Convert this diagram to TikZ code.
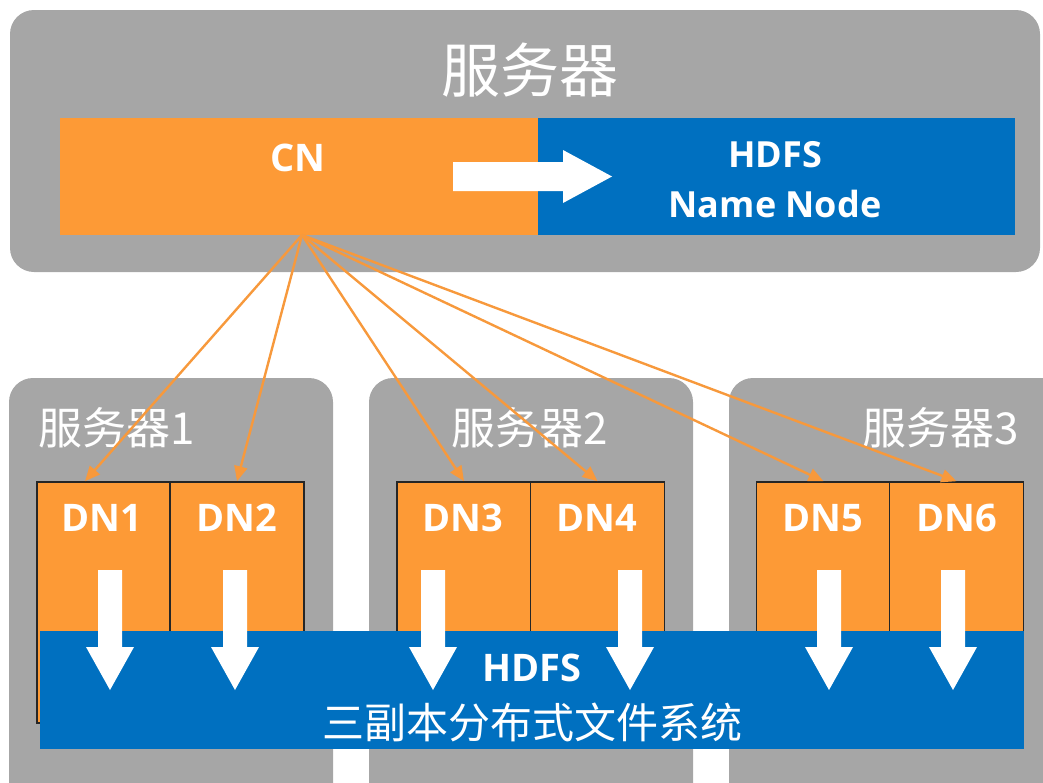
\documentclass[tikz,border=0pt]{standalone}
\usepackage{fontspec}
\setmainfont{Open Sans}
\newfontfamily\cjk{Noto Sans CJK SC}
\usetikzlibrary{arrows.meta}
\definecolor{srvgray}{HTML}{A6A6A6}
\definecolor{dnorange}{HTML}{FD9A36}
\definecolor{lnorange}{HTML}{F7993C}
\definecolor{hdblue}{HTML}{0070C0}
\tikzset{
  server/.style={fill=srvgray, rounded corners=24pt},
  dnbox/.style={rectangle, fill=dnorange, draw=black!85, line width=1.6pt, minimum width=134pt, minimum height=241pt, inner sep=0pt},
  dnlabel/.style={text=white, font=\bfseries\fontsize{38}{42}\selectfont, inner sep=0pt},
  cjklabel/.style={text=white, inner sep=0pt},
  boldlabel/.style={text=white, font=\bfseries\fontsize{38}{42}\selectfont, inner sep=0pt},
  conn/.style={lnorange, line width=2.4pt, -{Triangle[length=15pt,width=13pt]}},
  whitearrow/.style={fill=white}
}
\begin{document}
\begin{tikzpicture}[x=1pt,y=-1pt]
\useasboundingbox (0,0) rectangle (1043,782);
\clip (0,0) rectangle (1043,782);
% top server
\fill[server] (10,10) rectangle (1040,272);
\node[cjklabel, font=\cjk\fontsize{59}{64}\selectfont] (toplabel) at (530,70) {服务器};
\node[rectangle, fill=dnorange, minimum width=478pt, minimum height=117pt, inner sep=0pt] (cn) at (299,176.5) {};
\node[rectangle, fill=hdblue, minimum width=477pt, minimum height=117pt, inner sep=0pt] (nn) at (776.5,176.5) {};
\node[boldlabel] (cnt) at (298,158) {CN};
\node[boldlabel, align=center, font=\bfseries\fontsize{36}{50}\selectfont] (nnt) at (775,180) {HDFS\\Name Node};
\fill[whitearrow] (453,162) -- (563,162) -- (563,150) -- (612,176.5) -- (563,203) -- (563,191) -- (453,191) -- cycle;
% lower servers
\fill[server] (9,378) rectangle (333,820);
\fill[server] (369,378) rectangle (693,820);
\fill[server] (729,378) rectangle (1080,820);
\node[cjklabel, font=\cjk\fontsize{44}{48}\selectfont] (s1) at (117,428) {服务器1};
\node[cjklabel, font=\cjk\fontsize{44}{48}\selectfont] (s2) at (530,428) {服务器2};
\node[cjklabel, font=\cjk\fontsize{44}{48}\selectfont] (s3) at (941,428) {服务器3};
% DN boxes
\node[dnbox] (dn1) at (104,602.5) {};
\node[dnbox] (dn2) at (237,602.5) {};
\node[dnbox] (dn3) at (464,602.5) {};
\node[dnbox] (dn4) at (597.5,602.5) {};
\node[dnbox] (dn5) at (823.5,602.5) {};
\node[dnbox] (dn6) at (956.5,602.5) {};
\node[dnlabel] at (102,518) {DN1};
\node[dnlabel] at (237,518) {DN2};
\node[dnlabel] at (463,518) {DN3};
\node[dnlabel] at (597,518) {DN4};
\node[dnlabel] at (823,518) {DN5};
\node[dnlabel] at (957,518) {DN6};
% HDFS bar
\node[rectangle, fill=hdblue, minimum width=984pt, minimum height=118pt, inner sep=0pt] (hdfs) at (532,690) {};
\node[boldlabel] (hdfst) at (532,668) {HDFS};
\node[cjklabel, font=\cjk\fontsize{42}{46}\selectfont] (hdfsc) at (532,722) {三副本分布式文件系统};
% white down arrows
\foreach \c in {110,235,433,630,829,953}{
  \fill[whitearrow] (\c-12,570) -- (\c+12,570) -- (\c+12,647) -- (\c+24,647) -- (\c,690) -- (\c-24,647) -- (\c-12,647) -- cycle;
}
% connectors
\coordinate (src) at (302,235);
\draw[conn] (src) -- ([xshift=-19pt]dn1.north);
\draw[conn] (src) -- (dn2.north);
\draw[conn] (src) -- (dn3.north);
\draw[conn] (src) -- (dn4.north);
\draw[conn] (src) -- (dn5.north);
\draw[conn] (src) -- (dn6.north);
\end{tikzpicture}
\end{document}
